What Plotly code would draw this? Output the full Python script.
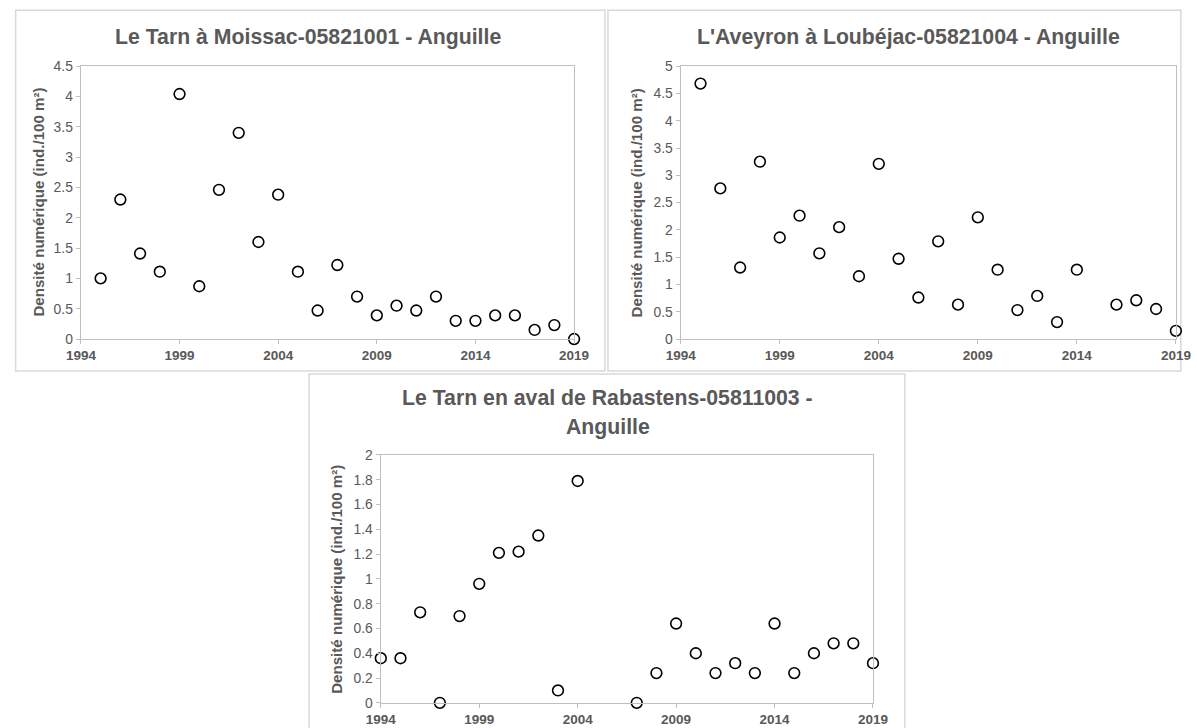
import plotly.graph_objects as go

# The page is viewed with an 8 px body margin and the snapshot is fitted to
# 1197x728, so positions are given in final picture pixels and converted here.
W, H = 1197, 728
S = 728 / 744                      # fit factor of the snapshot
OY = 8 * S                         # top offset of the figure in the picture
OX = 8 * S + (1197 - 1213 * S) / 2 # left offset (margin + centring)

# Densité numérique d'anguilles par station (ind./100 m²)
years_moissac = [1995, 1996, 1997, 1998, 1999, 2000, 2001, 2002, 2003, 2004, 2005, 2006,
                 2007, 2008, 2009, 2010, 2011, 2012, 2013, 2014, 2015, 2016, 2017, 2018, 2019]
dens_moissac = [1.0, 2.3, 1.41, 1.11, 4.04, 0.87, 2.46, 3.4, 1.6, 2.38, 1.11, 0.47,
                1.22, 0.7, 0.39, 0.55, 0.47, 0.7, 0.3, 0.3, 0.39, 0.39, 0.15, 0.23, 0.0]

years_loubejac = [1995, 1996, 1997, 1998, 1999, 2000, 2001, 2002, 2003, 2004, 2005, 2006,
                  2007, 2008, 2009, 2010, 2011, 2012, 2013, 2014, 2016, 2017, 2018, 2019]
dens_loubejac = [4.68, 2.76, 1.31, 3.25, 1.86, 2.26, 1.57, 2.05, 1.15, 3.21, 1.47, 0.76,
                 1.79, 0.63, 2.23, 1.27, 0.53, 0.79, 0.31, 1.27, 0.63, 0.71, 0.55, 0.15]

years_rabastens = [1994, 1995, 1996, 1997, 1998, 1999, 2000, 2001, 2002, 2003, 2004,
                   2007, 2008, 2009, 2010, 2011, 2012, 2013, 2014, 2015, 2016, 2017, 2018, 2019]
dens_rabastens = [0.36, 0.36, 0.73, 0.0, 0.70, 0.96, 1.21, 1.22, 1.35, 0.10, 1.79,
                  0.0, 0.24, 0.64, 0.40, 0.24, 0.32, 0.24, 0.64, 0.24, 0.40, 0.48, 0.48, 0.32]

titles = ["Le Tarn à Moissac-05821001 - Anguille",
          "L'Aveyron à Loubéjac-05821004 - Anguille",
          ["Le Tarn en aval de Rabastens-05811003 -", "Anguille"]]
y_label = "Densité numérique (ind./100 m²)"
y_max = [4.5, 5, 2]
y_step = [0.5, 0.5, 0.2]

FONT = "Arial, Liberation Sans, sans-serif"
GREY_TXT = "#595959"
AXIS_COL = "#bfbfbf"
FRAME_COL = "#d9d9d9"


def sz(v):
    """Size in picture pixels -> figure pixels."""
    return v / S


def px_x(x):
    return ((x - OX) / S) / W


def px_y(y):
    return 1 - ((y - OY) / S) / H


# plot areas in picture pixels: (left, right, top, bottom)
areas = [(79, 574, 66, 339), (681, 1178, 66, 339), (380, 874, 455, 703)]
# surrounding chart frames
frames = [(13.5, 605, 10, 371), (608, 1183, 10, 371), (308, 906, 374, 760)]

fig = go.Figure()
series = [(years_moissac, dens_moissac), (years_loubejac, dens_loubejac),
          (years_rabastens, dens_rabastens)]

for i, (xs, ys) in enumerate(series):
    suffix = "" if i == 0 else str(i + 1)
    fig.add_trace(go.Scatter(
        x=xs, y=ys, mode="markers", cliponaxis=False, showlegend=False,
        xaxis="x" + suffix, yaxis="y" + suffix,
        marker=dict(symbol="circle", size=sz(10.5), color="white",
                    line=dict(color="black", width=1.6)),
    ))

layout = dict(
    width=W, height=H, margin=dict(l=0, r=0, t=0, b=0),
    paper_bgcolor="white", plot_bgcolor="white",
    font=dict(family=FONT, color=GREY_TXT),
    shapes=[], annotations=[],
)

for i, (l, r, t, b) in enumerate(areas):
    suffix = "" if i == 0 else str(i + 1)
    layout["xaxis" + suffix] = dict(
        domain=[px_x(l), px_x(r)], anchor="y" + suffix,
        range=[1994, 2019], tick0=1994, dtick=5, tickformat="d",
        showgrid=False, zeroline=False, showline=True, mirror=True,
        linecolor=AXIS_COL, linewidth=1.2,
        ticks="outside", ticklen=sz(4), tickcolor=AXIS_COL,
        tickfont=dict(family=FONT, size=sz(13.2), color=GREY_TXT, weight="bold"),
    )
    layout["yaxis" + suffix] = dict(
        domain=[px_y(b), px_y(t)], anchor="x" + suffix,
        range=[0, y_max[i]], tick0=0, dtick=y_step[i],
        showgrid=False, zeroline=False, showline=True, mirror=True,
        linecolor=AXIS_COL, linewidth=1.2,
        ticks="outside", ticklen=sz(4), tickcolor=AXIS_COL,
        tickfont=dict(family=FONT, size=sz(13.6), color=GREY_TXT),
    )

for (l, r, t, b) in frames:
    layout["shapes"].append(dict(
        type="rect", xref="paper", yref="paper",
        x0=px_x(l), x1=px_x(r), y0=px_y(b), y1=px_y(t),
        line=dict(color=FRAME_COL, width=1.5), fillcolor="rgba(0,0,0,0)", layer="below",
    ))

title_pos = [(307, 37), (910, 37), (608, 398)]
for i, (cx, cy) in enumerate(title_pos):
    lines = titles[i] if isinstance(titles[i], list) else [titles[i]]
    for k, line in enumerate(lines):
        layout["annotations"].append(dict(
            text=line, xref="paper", yref="paper",
            x=px_x(cx), y=px_y(cy + 29 * k), xanchor="center", yanchor="middle",
            showarrow=False, font=dict(family=FONT, size=sz(20.8), color=GREY_TXT, weight="bold"),
        ))

ytitle_x = [37, 637, 336]
for i, (l, r, t, b) in enumerate(areas):
    layout["annotations"].append(dict(
        text=y_label, xref="paper", yref="paper",
        x=px_x(ytitle_x[i]), y=px_y((t + b) / 2), xanchor="center", yanchor="middle",
        textangle=-90, showarrow=False,
        font=dict(family=FONT, size=sz(14.8), color=GREY_TXT, weight="bold"),
    ))

fig.update_layout(**layout)
fig.write_html("out.html")
